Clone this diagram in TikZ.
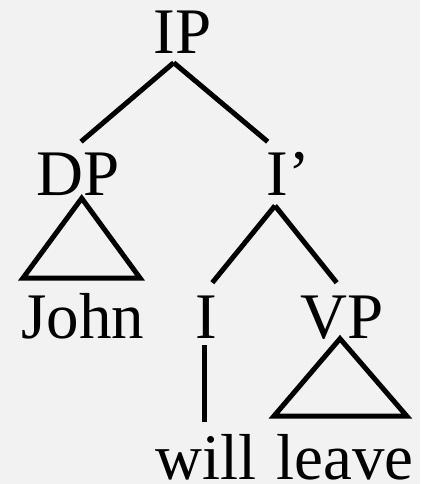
\documentclass[tikz,border=0pt]{standalone}
\usepackage{fontspec}
\setmainfont{Liberation Serif}
\usepackage{xcolor}
\definecolor{paper}{HTML}{F2F2F2}

\begin{document}
\begin{tikzpicture}[x=1pt, y=-1pt,
  cat/.style={anchor=base, inner sep=0pt, font=\fontsize{65}{70}\selectfont},
  br/.style={line width=5pt, black},
  tri/.style={line width=5pt, black, miter limit=20}
]
  \fill[paper] (0,0) rectangle (420,484);
  \useasboundingbox (0,0) rectangle (420,484);
  % labels
  \node[cat] (ip) at (182.5,54) {IP};
  \node[cat] (dp) at (78.5,195.7) {DP};
  \node[cat] (ibar) at (288,195.7) {I’};
  \node[cat] (john) at (83,338.7) {John};
  \node[cat] (i) at (206.7,338.7) {I};
  \node[cat] (vp) at (341.7,338.7) {VP};
  \node[cat] (will) at (206,479) {will};
  \node[cat] (leave) at (345,479) {leave};
  % branches
  \draw[br] ([xshift=-8.8pt,yshift=-8.7pt]ip.base) -- ([xshift=2.5pt,yshift=54pt]dp.base);
  \draw[br] ([xshift=-8.8pt,yshift=-8.7pt]ip.base) -- ([xshift=-20.3pt,yshift=54pt]ibar.base);
  \draw[br] ([xshift=-13pt,yshift=-10pt]ibar.base) -- ([xshift=5.6pt,yshift=56pt]i.base);
  \draw[br] ([xshift=-13pt,yshift=-10pt]ibar.base) -- ([xshift=-5pt,yshift=56pt]vp.base);
  \draw[br] ([xshift=-2.4pt,yshift=-6.6pt]i.base) -- ([xshift=-1.7pt,yshift=57pt]will.base);
  % triangles
  \draw[tri] ([xshift=3.2pt,yshift=-2.6pt]dp.base) -- ([xshift=-60pt,yshift=60.7pt]john.base)
    -- ([xshift=57pt,yshift=60.7pt]john.base) -- cycle;
  \draw[tri] ([xshift=-1.7pt]vp.base) -- ([xshift=-71pt,yshift=63pt]leave.base)
    -- ([xshift=61.7pt,yshift=63pt]leave.base) -- cycle;
\end{tikzpicture}
\end{document}
